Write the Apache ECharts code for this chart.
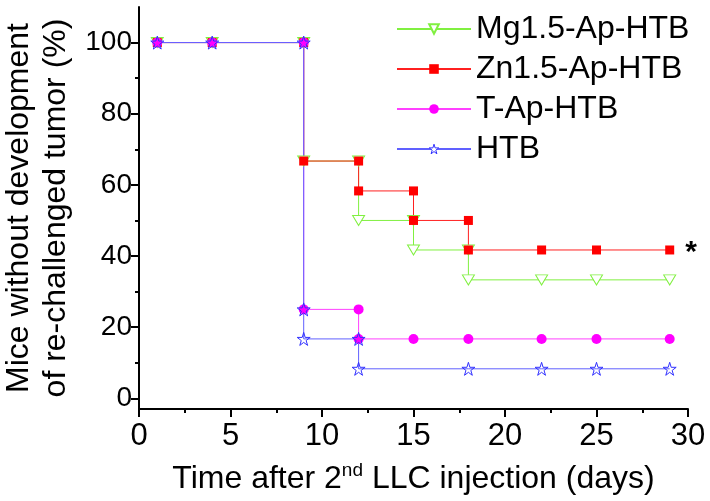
<!DOCTYPE html>
<html>
<head>
<meta charset="utf-8">
<script src="https://cdn.jsdelivr.net/npm/echarts@6/dist/echarts.min.js"></script>
<style>html,body{margin:0;padding:0;background:#fff}#c{width:710px;height:501px}</style>
</head>
<body>
<div id="c"></div>
<script>
// ---- data ----
const seriesNames = ['Mg1.5-Ap-HTB', 'Zn1.5-Ap-HTB', 'T-Ap-HTB', 'HTB'];
const mgX = [1, 4, 9, 9, 12, 12, 15, 15, 18, 18, 22, 25, 29];
const mgY = [100, 100, 100, 66.7, 66.7, 50, 50, 41.7, 41.7, 33.3, 33.3, 33.3, 33.3];
const znX = [1, 4, 9, 9, 12, 12, 15, 15, 18, 18, 22, 25, 29];
const znY = [100, 100, 100, 66.7, 66.7, 58.3, 58.3, 50, 50, 41.7, 41.7, 41.7, 41.7];
const tX = [1, 4, 9, 9, 12, 12, 15, 18, 22, 25, 29];
const tY = [100, 100, 100, 25, 25, 16.7, 16.7, 16.7, 16.7, 16.7, 16.7];
const htbX = [1, 4, 9, 9, 9, 12, 12, 18, 22, 25, 29];
const htbY = [100, 100, 100, 25, 16.7, 16.7, 8.3, 8.3, 8.3, 8.3, 8.3];
const yMajorTicks = [0, 20, 40, 60, 80, 100];
const yMinorTicks = [10, 30, 50, 70, 90];
const significanceMark = '*';

const FONT = 'Liberation Sans, Arial, sans-serif';
const pts = (xs, ys) => xs.map((x, i) => [x, ys[i]]);

const znData = pts(znX, znY);
znData[znData.length - 1] = {
  value: znData[znData.length - 1],
  label: {
    show: true, formatter: significanceMark, position: 'right', distance: 11,
    fontSize: 30, fontWeight: 'bold', color: '#000', fontFamily: FONT, offset: [0, 3]
  }
};

const starPath = 'path://M50,0 L61,35 L98,35 L68,57 L79,91 L50,70 L21,91 L32,57 L2,35 L39,35 Z';
const downTri = 'path://M0,0 L100,0 L50,87 Z';

const colMg = '#80F040', colZn = '#FF2020', colT = '#FF40FF', colH = '#6060FF';

const chart = echarts.init(document.getElementById('c'), null, { renderer: 'canvas' });
chart.setOption({
  animation: false,
  backgroundColor: '#fff',
  grid: { left: 139, right: 22, top: 7, bottom: 92, containLabel: false, outerBoundsMode: 'none' },
  legend: {
    left: 391, top: 8, orient: 'vertical',
    itemWidth: 74, itemHeight: 12, itemGap: 8,
    textStyle: { fontSize: 32, fontFamily: FONT, color: '#000', lineHeight: 32 },
    data: [
      { name: seriesNames[0] },
      { name: seriesNames[1] },
      { name: seriesNames[2] },
      { name: seriesNames[3], itemStyle: { color: '#fff', borderColor: '#3030FF', borderWidth: 1 } }
    ]
  },
  xAxis: {
    type: 'value', min: 0, max: 30, interval: 5,
    name: '{a|Time after 2}{s|nd}{a| LLC injection (days)}',
    nameLocation: 'middle', nameGap: 52,
    nameTextStyle: {
      fontFamily: FONT, color: '#000',
      rich: {
        a: { fontSize: 32, fontFamily: FONT, color: '#000', lineHeight: 36 },
        s: { fontSize: 19, fontFamily: FONT, color: '#000', verticalAlign: 'top', lineHeight: 36 }
      }
    },
    axisLine: { show: true, onZero: false, lineStyle: { color: '#000', width: 2 } },
    axisTick: { show: true, inside: false, length: 8, lineStyle: { color: '#000', width: 2 } },
    minorTick: { show: true, splitNumber: 2, length: 4, lineStyle: { color: '#000', width: 2 } },
    axisLabel: { fontSize: 31, fontFamily: FONT, color: '#000', margin: 12 },
    splitLine: { show: false }
  },
  yAxis: [{
    type: 'value', min: -3, max: 110,
    name: 'Mice without development\nof re-challenged tumor (%)',
    nameLocation: 'middle', nameGap: 63,
    nameTextStyle: { fontSize: 32, fontFamily: FONT, color: '#000', lineHeight: 37 },
    axisLine: { show: true, onZero: false, lineStyle: { color: '#000', width: 2 } },
    axisTick: { show: true, inside: false, length: 8, customValues: yMajorTicks, lineStyle: { color: '#000', width: 2 } },
    axisLabel: { fontSize: 28, fontFamily: FONT, color: '#000', margin: 7, customValues: yMajorTicks },
    splitLine: { show: false }
  }, {
    type: 'value', min: -3, max: 110, position: 'left', offset: 0,
    axisLine: { show: false },
    axisTick: { show: true, inside: false, length: 4, customValues: yMinorTicks, lineStyle: { color: '#000', width: 2 } },
    axisLabel: { show: false },
    splitLine: { show: false }
  }],
  series: [{
    name: seriesNames[0], type: 'line', data: pts(mgX, mgY),
    symbol: downTri, symbolSize: [12, 10],
    lineStyle: { color: colMg, width: 1 },
    itemStyle: { color: '#fff', borderColor: colMg, borderWidth: 1 }
  }, {
    name: seriesNames[1], type: 'line', data: znData,
    symbol: 'rect', symbolSize: 9,
    lineStyle: { color: colZn, width: 1 },
    itemStyle: { color: '#FF0000', borderColor: '#FF0000', borderWidth: 0 }
  }, {
    name: seriesNames[2], type: 'line', data: pts(tX, tY),
    symbol: 'circle', symbolSize: 10,
    lineStyle: { color: colT, width: 1 },
    itemStyle: { color: '#FF00FF', borderWidth: 0 }
  }, {
    name: seriesNames[3], type: 'line', data: pts(htbX, htbY),
    symbol: starPath, symbolSize: 13,
    lineStyle: { color: colH, width: 1 },
    itemStyle: { color: 'rgba(255,255,255,0)', borderColor: '#3030FF', borderWidth: 1 }
  }]
});
</script>
</body>
</html>
